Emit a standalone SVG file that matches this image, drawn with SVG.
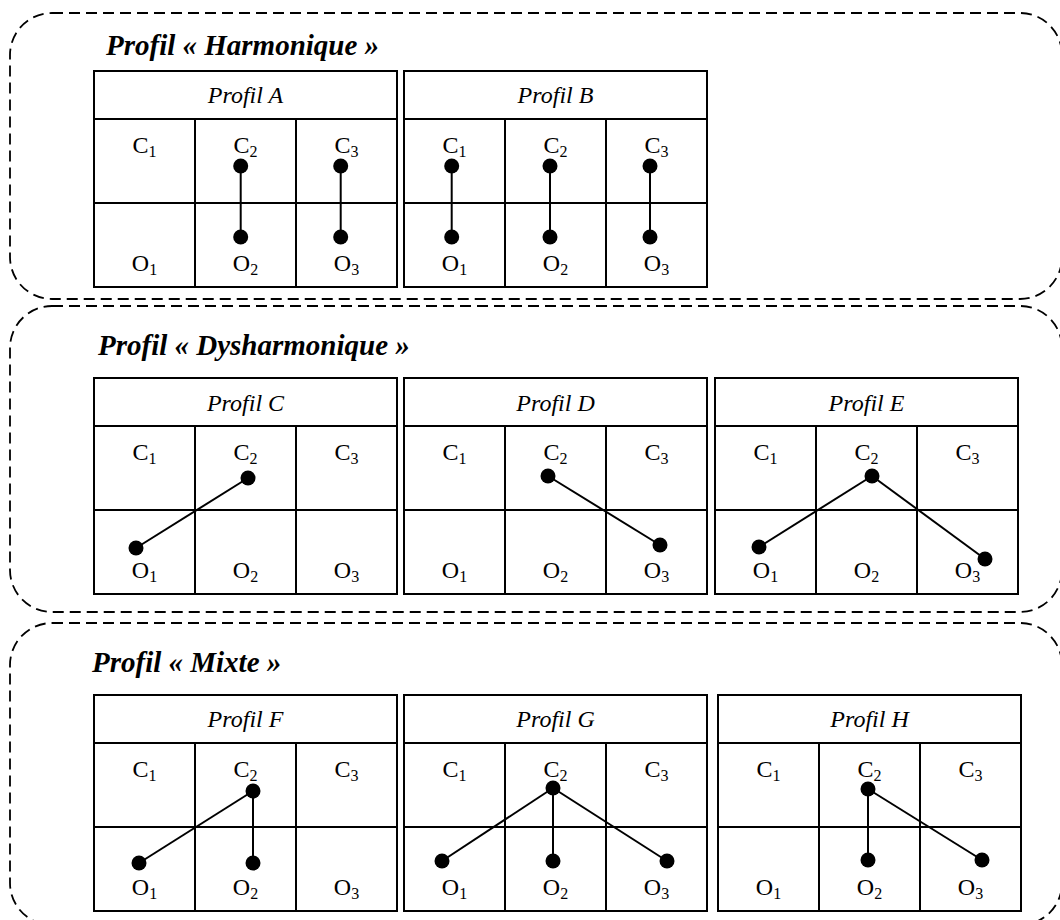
<svg xmlns="http://www.w3.org/2000/svg" width="1060" height="920" viewBox="0 0 1060 920">
<defs>
<style>
.frame{fill:none;stroke:#000;stroke-width:1.8;stroke-dasharray:11 6}
.grid{fill:#fff;stroke:#000;stroke-width:2}
.gl{stroke:#000;stroke-width:2}
.title{font-family:"Liberation Serif","Times New Roman",serif;font-weight:bold;font-style:italic;font-size:29px;fill:#000}
.hdr{font-family:"Liberation Serif","Times New Roman",serif;font-style:italic;font-size:24px;fill:#000;text-anchor:middle}
.lbl{font-family:"Liberation Serif","Times New Roman",serif;font-size:24px;fill:#000;text-anchor:middle}
.sub{font-size:16px}
.edge{stroke:#000;stroke-width:2;fill:none}
.dot{fill:#000}
</style>
<g id="grid">
<rect class="grid" x="0" y="0" width="303" height="216"/>
<line class="gl" x1="0" y1="48" x2="303" y2="48"/>
<line class="gl" x1="0" y1="132" x2="303" y2="132"/>
<line class="gl" x1="101" y1="48" x2="101" y2="216"/>
<line class="gl" x1="202" y1="48" x2="202" y2="216"/>
<text class="lbl" x="50.5" y="82">C<tspan class="sub" dy="4">1</tspan></text>
<text class="lbl" x="151.5" y="82">C<tspan class="sub" dy="4">2</tspan></text>
<text class="lbl" x="252.5" y="82">C<tspan class="sub" dy="4">3</tspan></text>
<text class="lbl" x="50.5" y="200">O<tspan class="sub" dy="4">1</tspan></text>
<text class="lbl" x="151.5" y="200">O<tspan class="sub" dy="4">2</tspan></text>
<text class="lbl" x="252.5" y="200">O<tspan class="sub" dy="4">3</tspan></text>
</g>
</defs>

<g id="group-harmonique">
<rect class="frame" x="10" y="13" width="1052" height="286" rx="42"/>
<text class="title" x="106" y="55">Profil « Harmonique »</text>
</g>
<g id="group-dysharmonique">
<rect class="frame" x="10" y="306" width="1052" height="306" rx="42"/>
<text class="title" x="98" y="355">Profil « Dysharmonique »</text>
</g>
<g id="group-mixte">
<rect class="frame" x="10" y="623" width="1052" height="302" rx="42"/>
<text class="title" x="92" y="672">Profil « Mixte »</text>
</g>

<g id="profil-A" transform="translate(94,71)"><use href="#grid"/><text class="hdr" x="151.5" y="32">Profil A</text></g>
<g id="profil-B" transform="translate(404,71)"><use href="#grid"/><text class="hdr" x="151.5" y="32">Profil B</text></g>
<g id="profil-C" transform="translate(94,378)"><use href="#grid"/><text class="hdr" x="151.5" y="33">Profil C</text></g>
<g id="profil-D" transform="translate(404,378)"><use href="#grid"/><text class="hdr" x="151.5" y="33">Profil D</text></g>
<g id="profil-E" transform="translate(715,378)"><use href="#grid"/><text class="hdr" x="151.5" y="33">Profil E</text></g>
<g id="profil-F" transform="translate(94,695)"><use href="#grid"/><text class="hdr" x="151.5" y="32">Profil F</text></g>
<g id="profil-G" transform="translate(404,695)"><use href="#grid"/><text class="hdr" x="151.5" y="32">Profil G</text></g>
<g id="profil-H" transform="translate(718,695)"><use href="#grid"/><text class="hdr" x="151.5" y="32">Profil H</text></g>

<g id="connectors">
<line class="edge" x1="240.7" y1="166" x2="240.7" y2="237"/>
<line class="edge" x1="340.7" y1="166" x2="340.7" y2="237"/>
<line class="edge" x1="451.7" y1="166" x2="451.7" y2="237"/>
<line class="edge" x1="550" y1="166" x2="550" y2="237"/>
<line class="edge" x1="650" y1="166" x2="650" y2="237"/>
<line class="edge" x1="248" y1="478" x2="136" y2="548"/>
<line class="edge" x1="548" y1="476" x2="660" y2="545"/>
<line class="edge" x1="872" y1="476" x2="759" y2="547"/>
<line class="edge" x1="872" y1="476" x2="985" y2="559"/>
<line class="edge" x1="253" y1="791" x2="139" y2="863"/>
<line class="edge" x1="253" y1="791" x2="253" y2="863"/>
<line class="edge" x1="553" y1="788" x2="442" y2="861"/>
<line class="edge" x1="553" y1="788" x2="553" y2="861"/>
<line class="edge" x1="553" y1="788" x2="667" y2="861"/>
<line class="edge" x1="868" y1="789" x2="868" y2="860"/>
<line class="edge" x1="868" y1="789" x2="982" y2="860"/>
</g>

<g id="points">
<circle class="dot" cx="240.7" cy="166" r="7.5"/><circle class="dot" cx="240.7" cy="237" r="7.5"/>
<circle class="dot" cx="340.7" cy="166" r="7.5"/><circle class="dot" cx="340.7" cy="237" r="7.5"/>
<circle class="dot" cx="451.7" cy="166" r="7.5"/><circle class="dot" cx="451.7" cy="237" r="7.5"/>
<circle class="dot" cx="550" cy="166" r="7.5"/><circle class="dot" cx="550" cy="237" r="7.5"/>
<circle class="dot" cx="650" cy="166" r="7.5"/><circle class="dot" cx="650" cy="237" r="7.5"/>
<circle class="dot" cx="248" cy="478" r="7.5"/><circle class="dot" cx="136" cy="548" r="7.5"/>
<circle class="dot" cx="548" cy="476" r="7.5"/><circle class="dot" cx="660" cy="545" r="7.5"/>
<circle class="dot" cx="872" cy="476" r="7.5"/><circle class="dot" cx="759" cy="547" r="7.5"/><circle class="dot" cx="985" cy="559" r="7.5"/>
<circle class="dot" cx="253" cy="791" r="7.5"/><circle class="dot" cx="139" cy="863" r="7.5"/><circle class="dot" cx="253" cy="863" r="7.5"/>
<circle class="dot" cx="553" cy="788" r="7.5"/><circle class="dot" cx="442" cy="861" r="7.5"/><circle class="dot" cx="553" cy="861" r="7.5"/><circle class="dot" cx="667" cy="861" r="7.5"/>
<circle class="dot" cx="868" cy="789" r="7.5"/><circle class="dot" cx="868" cy="860" r="7.5"/><circle class="dot" cx="982" cy="860" r="7.5"/>
</g>
</svg>
